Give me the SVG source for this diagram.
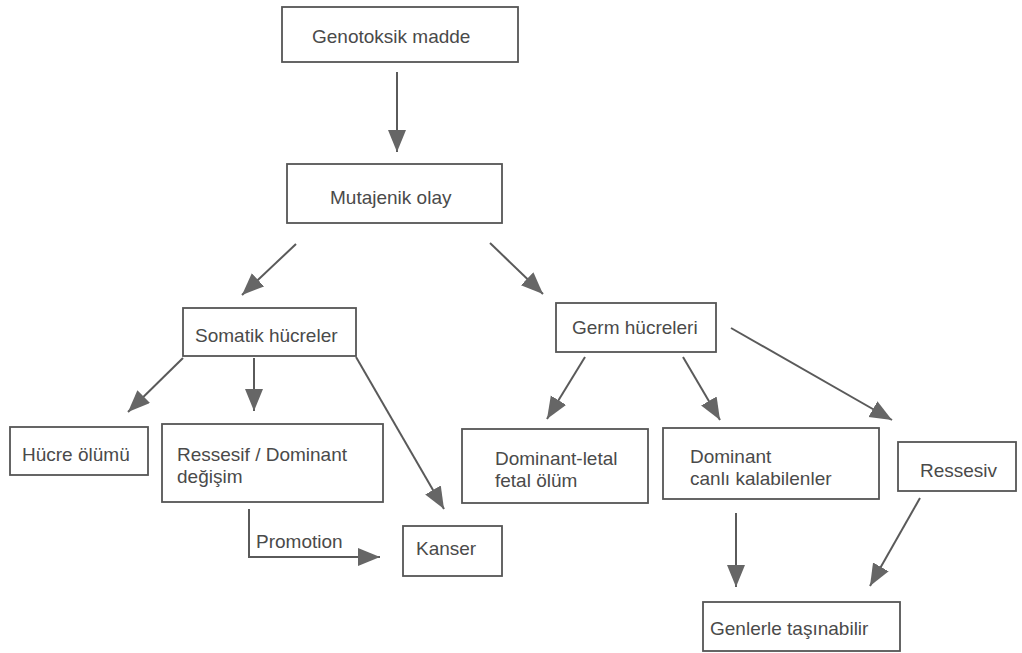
<svg xmlns="http://www.w3.org/2000/svg" width="1022" height="653" viewBox="0 0 1022 653">
<defs>
<style>
.box{fill:#fff;stroke:#555;stroke-width:1.8}
.t{font-family:"Liberation Sans",Arial,sans-serif;font-size:19px;fill:#4a4a4a}
.c{fill:none;stroke:#5a5a5a;stroke-width:2}
</style>
<marker id="ah" markerUnits="userSpaceOnUse" markerWidth="24" markerHeight="20" refX="22" refY="9" orient="auto">
<path d="M0,0 L22,9 L0,18 Z" fill="#666"/>
</marker>
</defs>
<rect width="1022" height="653" fill="#fff"/>
<g id="connectors">
<line class="c" x1="397" y1="72" x2="397" y2="152" marker-end="url(#ah)"/>
<line class="c" x1="296" y1="244" x2="242" y2="295" marker-end="url(#ah)"/>
<line class="c" x1="490" y1="243" x2="543" y2="294" marker-end="url(#ah)"/>
<line class="c" x1="183" y1="358" x2="128" y2="412" marker-end="url(#ah)"/>
<line class="c" x1="254" y1="358" x2="254" y2="411" marker-end="url(#ah)"/>
<line class="c" x1="356" y1="357" x2="444" y2="509" marker-end="url(#ah)"/>
<polyline class="c" points="249,509 249,557 380,557" marker-end="url(#ah)"/>
<line class="c" x1="585" y1="357" x2="547" y2="419" marker-end="url(#ah)"/>
<line class="c" x1="683" y1="357" x2="720" y2="420" marker-end="url(#ah)"/>
<line class="c" x1="731" y1="328" x2="892" y2="420" marker-end="url(#ah)"/>
<line class="c" x1="736" y1="513" x2="736" y2="587" marker-end="url(#ah)"/>
<line class="c" x1="920" y1="498" x2="870" y2="586" marker-end="url(#ah)"/>
<text class="t" x="256" y="548">Promotion</text>
</g>
<g id="genotoksik"><rect class="box" x="282" y="7" width="236" height="55"/><text class="t" x="312" y="43">Genotoksik madde</text></g>
<g id="mutajenik"><rect class="box" x="287" y="164" width="215" height="59"/><text class="t" x="330" y="204">Mutajenik olay</text></g>
<g id="somatik"><rect class="box" x="183" y="308" width="173" height="48"/><text class="t" x="195" y="342">Somatik hücreler</text></g>
<g id="germ"><rect class="box" x="556" y="303" width="160" height="49"/><text class="t" x="572" y="334">Germ hücreleri</text></g>
<g id="hucre-olumu"><rect class="box" x="10" y="427" width="138" height="48"/><text class="t" x="22" y="461">Hücre ölümü</text></g>
<g id="ressesif-dominant"><rect class="box" x="162" y="424" width="221" height="78"/><text class="t" x="177" y="461">Ressesif / Dominant</text><text class="t" x="177" y="483">değişim</text></g>
<g id="kanser"><rect class="box" x="403" y="526" width="99" height="50"/><text class="t" x="416" y="555">Kanser</text></g>
<g id="dominant-letal"><rect class="box" x="462" y="429" width="186" height="74"/><text class="t" x="495" y="465">Dominant-letal</text><text class="t" x="495" y="487">fetal ölüm</text></g>
<g id="dominant-canli"><rect class="box" x="663" y="428" width="216" height="71"/><text class="t" x="690" y="463">Dominant</text><text class="t" x="690" y="485">canlı kalabilenler</text></g>
<g id="ressesiv"><rect class="box" x="898" y="442" width="118" height="49"/><text class="t" x="920" y="477">Ressesiv</text></g>
<g id="genlerle"><rect class="box" x="703" y="602" width="197" height="49"/><text class="t" x="710" y="635">Genlerle taşınabilir</text></g>
</svg>
